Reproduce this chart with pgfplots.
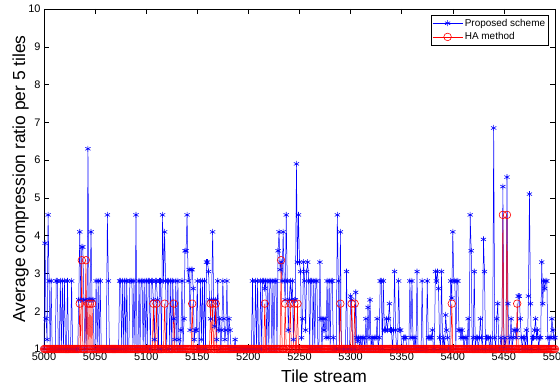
\documentclass[border=0pt]{standalone}
\usepackage{fontspec}
\setmainfont{Liberation Sans}
\usepackage{pgfplots}
\usepackage{pgfplotstable}
\pgfplotsset{compat=1.18}

% Proposed scheme, tiles 5000..5500
\pgfplotstableread[row sep=\\,header=false]{
1\\3.8\\1.8\\1.25\\4.55\\2.8\\1\\2.8\\1\\1\\
1\\1\\2.8\\2.8\\1\\1\\2.8\\1\\2.8\\1\\
2.8\\1\\1\\2.8\\1\\1\\1\\2.8\\1\\1\\
1\\1\\1\\1\\2.3\\4.1\\2.3\\3.7\\3.7\\2.3\\
1\\2.3\\1\\6.3\\2.3\\2.3\\4.1\\2.3\\2.3\\1\\
1\\2.8\\1\\2.8\\1\\2.8\\1\\1\\1\\1\\
1\\1\\4.55\\2.8\\1\\1\\1\\1\\1\\1\\
1\\1\\1\\1\\2.8\\2.8\\1\\2.8\\1\\2.8\\
1\\2.8\\1\\1\\2.8\\2.8\\2.8\\1\\2.8\\1\\
4.55\\1\\1\\2.8\\1\\2.8\\2.8\\1\\2.8\\1\\
2.8\\1\\2.8\\2.8\\1\\2.8\\2.8\\2.3\\1.25\\2.8\\
2.8\\2.3\\1\\2.8\\2.8\\1\\4.55\\2.8\\4.1\\2.8\\
1\\2.8\\2.8\\1\\2.8\\1\\2.8\\1.8\\1.25\\2.8\\
1\\2.8\\1.25\\1\\1.5\\2.8\\1\\1.8\\3.6\\3.6\\
4.55\\2.8\\3.1\\1.5\\3.1\\3.1\\2.6\\1.25\\1.5\\1.5\\
2.8\\1\\1\\2.8\\1.25\\2.8\\1\\2.8\\1\\3.3\\
3.3\\3.05\\2.3\\1.8\\2.3\\4.1\\2.3\\1.6\\2.3\\1.25\\
2.8\\1.5\\1.8\\1\\1.5\\2.8\\1.8\\1.25\\1.5\\2.8\\
1\\1.8\\1.5\\1\\1\\1\\1\\1.25\\1\\1\\
1\\1\\1\\1\\1\\1\\1\\1\\1\\1\\
1\\1\\1\\1\\2.8\\1\\1\\2.8\\1\\2.8\\
1\\1\\2.8\\1\\2.8\\2.8\\2.6\\2.8\\1\\2.8\\
1\\2.8\\2.8\\1\\2.8\\1\\2.8\\2.8\\1\\3.6\\
4.1\\3.1\\3.3\\2.8\\4.1\\2.8\\2.3\\4.55\\2.8\\1.5\\
2.3\\2.8\\2.3\\2.8\\1.25\\2.3\\2.3\\5.9\\3.3\\4.55\\
3.3\\3.05\\1.3\\1.8\\3.3\\2.8\\1.5\\3.05\\3.3\\2.8\\
1\\2.8\\2.8\\1\\2.8\\1\\2.8\\2.8\\1\\1\\
3.3\\1.8\\1\\1.8\\1.5\\1.8\\1.3\\2.8\\1.3\\2.8\\
1\\2.8\\2.8\\1.3\\1\\1\\1\\4.55\\2.8\\1\\
4.1\\1\\1\\1\\1\\1\\3.05\\1\\1\\1\\
2.4\\2.3\\1\\1\\1\\2.5\\1.3\\1.2\\1.3\\1\\
1.3\\1\\1.3\\1.3\\1\\1.8\\1\\2.1\\1.3\\2.3\\
1\\1.3\\1\\1.3\\1.3\\1.3\\1.8\\1\\1.3\\2.8\\
2.8\\1\\2.8\\1.5\\1.5\\1.8\\1.5\\1.8\\2.2\\1.5\\
1.5\\1\\1.5\\3.05\\1.5\\1\\1\\2.8\\1.5\\1.5\\
1\\1\\1.3\\1.3\\1.3\\1\\1\\1\\2.8\\1.3\\
2.8\\1.3\\1\\1.3\\1\\3.05\\1\\1\\1\\1\\
2.8\\1\\1\\1\\1\\2.8\\1.3\\1.3\\1.3\\1.3\\
1.5\\1\\1\\3.05\\2.8\\3.05\\2.6\\1.3\\1\\3.05\\
1\\1.3\\1\\1.9\\1.5\\1.3\\1\\1\\2.8\\2.35\\
4.1\\2.8\\2.8\\1\\2.8\\2.8\\1.5\\1.5\\1.3\\1.5\\
1.3\\1\\1.3\\1.3\\1\\1.8\\1\\4.55\\3.6\\1\\
1.3\\3.05\\1\\1.3\\1.3\\1\\1.3\\1.8\\1.3\\1\\
3.9\\3.05\\1\\1.3\\1.3\\1.3\\1\\1.3\\1\\1\\
6.85\\1.3\\1\\1.8\\2.2\\1\\1\\1.3\\1\\5.3\\
1\\1.3\\1\\5.55\\2.2\\1\\1.3\\1.8\\1\\1.3\\
1.5\\1.5\\1.3\\1.5\\2.4\\2.4\\1.8\\1.3\\1\\1.3\\
1.3\\1\\1.5\\1\\2.4\\5.1\\2.2\\1\\1.3\\1.3\\
1.5\\1.8\\1.3\\1.5\\1\\1.3\\1.3\\3.3\\2.2\\2.8\\
2.6\\2.8\\2.8\\1.3\\1\\1.3\\1.3\\1.8\\1.5\\1.3\\
1.3\\
}\proposed

% HA method, tiles 5000..5500
\pgfplotstableread[row sep=\\,header=false]{
1\\1\\1\\1\\1\\1\\1\\1\\1\\1\\
1\\1\\1\\1\\1\\1\\1\\1\\1\\1\\
1\\1\\1\\1\\1\\1\\1\\1\\1\\1\\
1\\1\\1\\1\\1\\2.2\\1\\3.35\\1\\1\\
1\\3.35\\1\\2.2\\1\\2.2\\1\\2.2\\1\\1\\
1\\1\\1\\1\\1\\1\\1\\1\\1\\1\\
1\\1\\1\\1\\1\\1\\1\\1\\1\\1\\
1\\1\\1\\1\\1\\1\\1\\1\\1\\1\\
1\\1\\1\\1\\1\\1\\1\\1\\1\\1\\
1\\1\\1\\1\\1\\1\\1\\1\\1\\1\\
1\\1\\1\\1\\1\\1\\1\\2.2\\1\\1\\
2.2\\1\\1\\1\\1\\1\\1\\1\\2.2\\1\\
1\\1\\1\\1\\1\\1\\1\\2.2\\1\\1\\
1\\1\\1\\1\\1\\1\\1\\1\\1\\1\\
1\\1\\1\\1\\1\\2.2\\1\\1\\1\\1\\
1\\1\\1\\1\\1\\1\\1\\1\\1\\1\\
1\\1\\1\\2.2\\1\\2.2\\1\\1\\2.2\\1\\
1\\1\\1\\1\\1\\1\\1\\1\\1\\1\\
1\\1\\1\\1\\1\\1\\1\\1\\1\\1\\
1\\1\\1\\1\\1\\1\\1\\1\\1\\1\\
1\\1\\1\\1\\1\\1\\1\\1\\1\\1\\
1\\1\\1\\1\\1\\1\\2.2\\1\\1\\1\\
1\\1\\1\\1\\1\\1\\1\\1\\1\\1\\
1\\1\\3.35\\1\\1\\1\\2.2\\1\\1\\1\\
1\\2.2\\1\\1\\1\\2.2\\1\\1\\2.2\\1\\
1\\1\\1\\1\\1\\1\\1\\1\\1\\1\\
1\\1\\1\\1\\1\\1\\1\\1\\1\\1\\
1\\1\\1\\1\\1\\1\\1\\1\\1\\1\\
1\\1\\1\\1\\1\\1\\1\\1\\1\\1\\
2.2\\1\\1\\1\\1\\1\\1\\1\\1\\1\\
1\\2.2\\1\\1\\2.2\\1\\1\\1\\1\\1\\
1\\1\\1\\1\\1\\1\\1\\1\\1\\1\\
1\\1\\1\\1\\1\\1\\1\\1\\1\\1\\
1\\1\\1\\1\\1\\1\\1\\1\\1\\1\\
1\\1\\1\\1\\1\\1\\1\\1\\1\\1\\
1\\1\\1\\1\\1\\1\\1\\1\\1\\1\\
1\\1\\1\\1\\1\\1\\1\\1\\1\\1\\
1\\1\\1\\1\\1\\1\\1\\1\\1\\1\\
1\\1\\1\\1\\1\\1\\1\\1\\1\\1\\
1\\1\\1\\1\\1\\1\\1\\1\\1\\2.2\\
1\\1\\1\\1\\1\\1\\1\\1\\1\\1\\
1\\1\\1\\1\\1\\1\\1\\1\\1\\1\\
1\\1\\1\\1\\1\\1\\1\\1\\1\\1\\
1\\1\\1\\1\\1\\1\\1\\1\\1\\1\\
1\\1\\1\\1\\1\\1\\1\\1\\1\\4.55\\
1\\1\\1\\4.55\\1\\1\\1\\1\\1\\1\\
1\\1\\1\\2.2\\1\\1\\1\\1\\1\\1\\
1\\1\\1\\1\\1\\1\\1\\1\\1\\1\\
1\\1\\1\\1\\1\\1\\1\\1\\1\\1\\
1\\1\\1\\1\\1\\1\\1\\1\\1\\1\\
1\\
}\hamethod

\begin{document}
\begin{tikzpicture}
\begin{axis}[
  name=ax,
  scale only axis,
  width=511bp, height=340bp,
  xmin=5000, xmax=5500, ymin=1, ymax=10,
  xtick={5000,5050,...,5500},
  ytick={1,2,...,10},
  tick align=inside,
  major tick length=5bp,
  axis line style={black, line width=0.5bp},
  tick style={black, line width=0.5bp},
  /pgf/number format/assume math mode=true,
  /pgf/number format/1000 sep={},
  tick label style={font=\fontsize{11}{12}\selectfont},
  xlabel={Tile stream},
  ylabel={Average compression ratio per 5 tiles},
  label style={font=\fontsize{17.5}{20}\selectfont},
  xlabel style={at={(axis description cs:0.548,-0.1)}, anchor=base},
  ylabel style={at={(axis description cs:-0.037,0.5)}, anchor=base},
  clip=false,
  legend style={at={(0.988,0.982)}, anchor=north east, draw=black, fill=white,
    font=\fontsize{10}{12}\selectfont, inner sep=1.5bp, row sep=1bp,
    cells={anchor=west}, line width=0.5bp},
  legend image code/.code={%
    \draw[mark repeat=2,mark phase=2] plot coordinates {(0bp,0bp) (15bp,0bp) (30bp,0bp)};},
]
\addplot[blue, line width=0.5bp, mark=asterisk, mark size=3bp,
  mark options={solid, line width=0.6bp}]
  table[x expr=\coordindex+5000, y index=0] {\proposed};
\addlegendentry{Proposed scheme}
\addplot[red, line width=0.5bp, mark=o, mark size=3.8bp,
  mark options={solid, line width=0.6bp}]
  table[x expr=\coordindex+5000, y index=0] {\hamethod};
\addlegendentry{HA method}
\end{axis}
\path (ax.south west) ++(-44bp,-38bp) coordinate (bl);
\path (ax.north east) ++(5bp,9bp) coordinate (tr);
\pgfresetboundingbox
\useasboundingbox (bl) rectangle (tr);
\end{tikzpicture}
\end{document}
